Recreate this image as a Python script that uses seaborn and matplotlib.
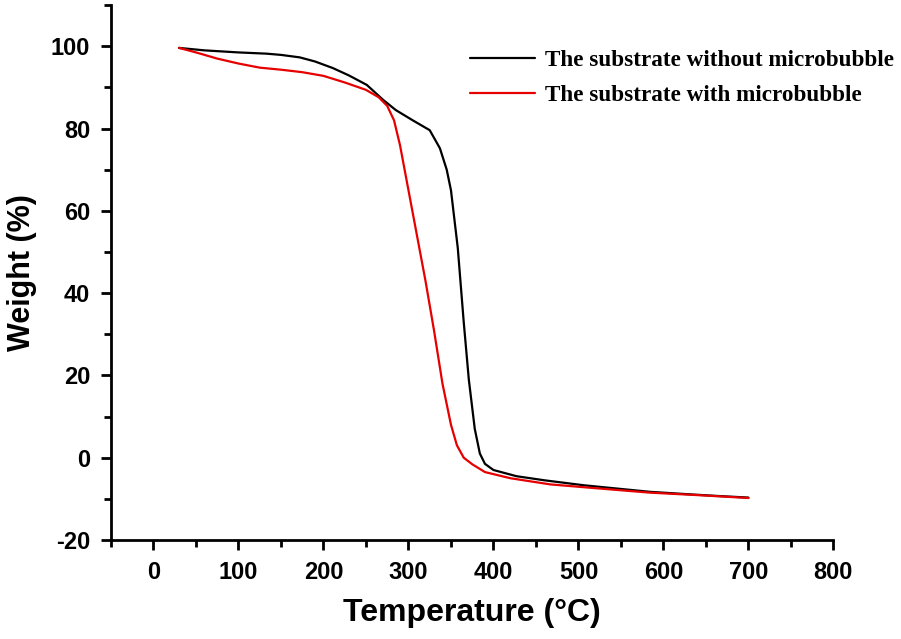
import numpy as np
import pandas as pd
import matplotlib
matplotlib.use("Agg")
import matplotlib.pyplot as plt
from matplotlib.ticker import MultipleLocator
from matplotlib.lines import Line2D
import seaborn as sns

# ---- data ----
black_x = [30, 60, 100, 133, 150, 172, 190, 211, 230, 251, 270, 285, 305, 325, 337,
           345, 350, 358, 365, 371, 378, 384, 390, 400, 427, 460, 506, 545, 584, 630, 663, 700]
black_y = [99.6, 99.0, 98.5, 98.2, 97.9, 97.3, 96.3, 94.7, 92.9, 90.6, 87.0, 84.5, 82.0, 79.6, 75.2,
           70.0, 65.0, 51.0, 33.0, 19.0, 7.0, 1.0, -1.5, -3.0, -4.5, -5.5, -6.7, -7.5, -8.3, -8.9, -9.3, -9.7]

red_x = [30, 50, 75, 100, 125, 150, 175, 200, 225, 250, 265, 275, 283, 290, 300, 310, 320,
         330, 340, 350, 357, 365, 375, 390, 420, 467, 525, 584, 640, 700]
red_y = [99.6, 98.5, 97.0, 95.8, 94.8, 94.3, 93.7, 92.8, 91.2, 89.4, 87.6, 85.5, 82.0, 76.0, 65.0, 54.0, 43.0,
         31.0, 18.0, 8.0, 3.0, 0.0, -1.6, -3.5, -5.0, -6.5, -7.5, -8.5, -9.1, -9.8]

labels = ["The substrate without microbubble", "The substrate with microbubble"]
colors = ["#000000", "#e60000"]

df = pd.concat([
    pd.DataFrame({"T": black_x, "W": black_y, "s": labels[0]}),
    pd.DataFrame({"T": red_x, "W": red_y, "s": labels[1]}),
], ignore_index=True)

sns.set_theme(style="ticks")
plt.rcParams["font.family"] = ["Liberation Sans", "DejaVu Sans"]
plt.rcParams["axes.unicode_minus"] = False
plt.rcParams["text.color"] = "black"
plt.rcParams["axes.labelcolor"] = "black"
plt.rcParams["xtick.color"] = "black"
plt.rcParams["ytick.color"] = "black"

fig = plt.figure(figsize=(9.01, 6.39), dpi=100)
ax = fig.add_axes([0.1232, 0.155, 0.8018, 0.837])

sns.lineplot(data=df, x="T", y="W", hue="s", palette=dict(zip(labels, colors)),
             linewidth=1.6, ax=ax, legend=False, sort=False, estimator=None)

ax.set_xlim(-50, 800)
ax.set_ylim(-20, 110)
ax.xaxis.set_major_locator(MultipleLocator(100))
ax.xaxis.set_minor_locator(MultipleLocator(50))
ax.yaxis.set_major_locator(MultipleLocator(20))
ax.yaxis.set_minor_locator(MultipleLocator(10))
ax.set_yticks([-20, 0, 20, 40, 60, 80, 100])

for s in ["top", "right"]:
    ax.spines[s].set_visible(False)
for s in ["left", "bottom"]:
    ax.spines[s].set_linewidth(2)
    ax.spines[s].set_color("black")

ax.tick_params(which="major", length=7, width=2, color="black", direction="out",
               labelsize=17, labelcolor="black")
ax.tick_params(axis="x", which="major", pad=8)
ax.tick_params(axis="y", which="major", pad=8)
ax.tick_params(which="minor", length=5, width=2, color="black", direction="out")
for lab in ax.get_xticklabels() + ax.get_yticklabels():
    lab.set_fontweight("bold")

ax.set_xlabel("Temperature (°C)", fontsize=23, fontweight="bold", labelpad=10, color="black")
ax.set_ylabel("Weight (%)", fontsize=22, fontweight="bold", labelpad=10, color="black")

handles = [Line2D([], [], color=c, linewidth=1.6) for c in colors]
fig.legend(handles, labels, loc="upper left", bbox_to_anchor=(458 / 901, 1 - 38 / 639),
           frameon=False, borderpad=0, handlelength=2.8, handletextpad=0.45,
           labelspacing=0.6,
           prop={"family": "Liberation Serif", "weight": "bold", "size": 16.7})

fig.savefig("out.png", dpi=100, facecolor="white")
